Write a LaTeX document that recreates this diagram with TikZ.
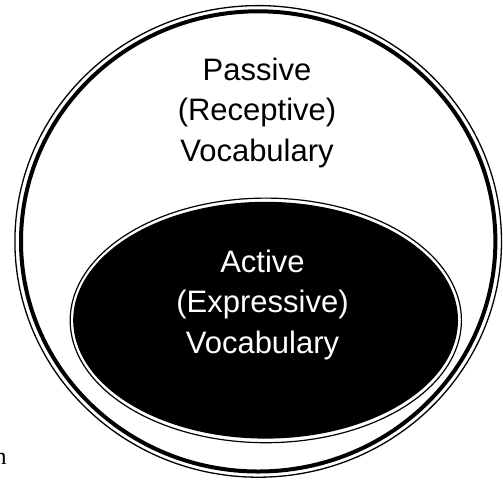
\documentclass[tikz,border=0pt]{standalone}
\usepackage{fontspec}
\setmainfont{Liberation Sans}
\newfontfamily\seriffont{Liberation Serif}
\begin{document}
\begin{tikzpicture}[x=1pt,y=-1pt,
  thinring/.style={draw=black,line width=1.3pt},
  thickring/.style={draw=black,line width=4pt},
  label/.style={inner sep=0pt,align=center,font=\fontsize{31}{40.5}\selectfont}]
\useasboundingbox (0,0) rectangle (503,480);
% outer circle: thin outer line + thick inner line
\draw[thinring] (258.2,241.4) ellipse [x radius=243.3pt, y radius=235.8pt];
\draw[thickring] (258.2,241.4) ellipse [x radius=237.2pt, y radius=230.1pt];
% inner ellipse: thin outline + black fill
\draw[line width=1.2pt] (265.8,320.4) ellipse [x radius=195.6pt, y radius=122.3pt];
\fill[black] (265.6,320.2) ellipse [x radius=192.4pt, y radius=118.4pt];
\node[label,text=black] (passive) at (257,112.6) {Passive\\(Receptive)\\Vocabulary};
\node[label,text=white] (active) at (262.5,304.7) {Active\\(Expressive)\\Vocabulary};
\node[inner sep=0pt,anchor=base west,font=\seriffont\fontsize{24}{28}\selectfont] (cut) at (-5.5,464) {n};
\end{tikzpicture}
\end{document}
